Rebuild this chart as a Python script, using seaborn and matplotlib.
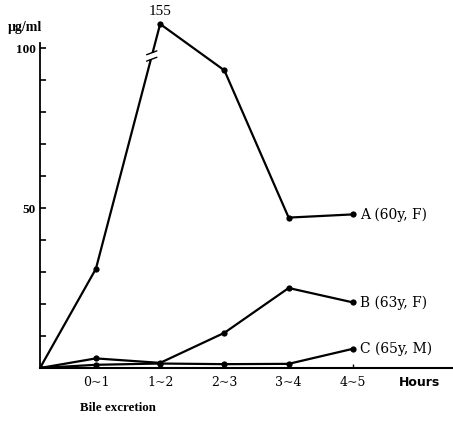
import matplotlib
matplotlib.use("Agg")
import matplotlib.pyplot as plt
import seaborn as sns
import numpy as np
import pandas as pd

# ---- data ----
categories = ["", "0~1", "1~2", "2~3", "3~4", "4~5"]   # first point = origin (start)
series_A = [0, 31, 155, 93, 47, 48]
series_B = [0, 3, 1.6, 11, 25, 20.5]
series_C = [0, 1, 1.4, 1.2, 1.3, 6]
series_labels = ["A (60y, F)", "B (63y, F)", "C (65y, M)"]
y_ticks_labeled = [50, 100]
y_break_at = 100      # axis broken above this value
y_break_top = 107.5   # display height used for the broken value
x_start = 0.13        # start point sits on the y axis, a bit before "0~1"

def disp(v):
    v = np.asarray(v, dtype=float)
    return np.where(v <= y_break_at, v,
                    y_break_at + (v - y_break_at) * (y_break_top - y_break_at) / (155 - y_break_at))

x_pos = np.array([x_start] + list(range(1, len(categories))), dtype=float)
rows = []
for name, vals in zip(series_labels, [series_A, series_B, series_C]):
    for xp, v in zip(x_pos, vals):
        rows.append({"x": xp, "y": float(disp(v)), "raw": v, "series": name})
df = pd.DataFrame(rows)

sns.set_theme(style="white")
plt.rcParams["font.family"] = ["DejaVu Serif"]
plt.rcParams["text.color"] = "black"

fig = plt.figure(figsize=(4.53, 4.23), dpi=100)
ax = fig.add_axes([40/453, 1 - 368/423, 413/453, (368 - 10)/423])

sns.lineplot(data=df, x="x", y="y", hue="series", units="series", estimator=None,
             palette=["black"] * 3, linewidth=1.6, marker="o", markersize=4.5,
             markeredgewidth=0, legend=False, ax=ax, sort=False)

ax.set_xlim(x_start, x_start + 413 / 64.25)
ax.set_ylim(0, (368 - 10) / 3.2)

# spines
for s in ["top", "right"]:
    ax.spines[s].set_visible(False)
ax.spines["left"].set_bounds(0, 101.5)
ax.spines["left"].set_linewidth(1.3)
ax.spines["bottom"].set_linewidth(1.5)
ax.spines["left"].set_color("black")
ax.spines["bottom"].set_color("black")

# ticks
yt = np.arange(10, 101, 10)
ax.set_yticks(yt)
ax.set_yticklabels([str(int(t)) if t in y_ticks_labeled else "" for t in yt],
                   fontsize=9.5, fontweight="bold", family=["Liberation Serif"])
ax.set_xticks(x_pos[1:])
ax.set_xticklabels(categories[1:], fontsize=9)
ax.tick_params(axis="y", left=True, direction="in", length=4, width=1.2, pad=3, colors="black")
ax.tick_params(axis="x", bottom=True, direction="in", length=3, width=1.0, pad=6, colors="black")
ax.set_xlabel("")
ax.set_ylabel("")

# end labels
for name, vals in zip(series_labels, [series_A, series_B, series_C]):
    ax.annotate(name, (x_pos[-1], float(disp(vals[-1]))), xytext=(5, 0),
                textcoords="offset points", va="center", ha="left",
                fontsize=10)

# peak label
i_peak = int(np.argmax(series_A))
ax.annotate(str(series_A[i_peak]), (x_pos[i_peak], float(disp(series_A[i_peak]))),
            xytext=(0, 4), textcoords="offset points", ha="center", va="bottom",
            fontsize=11, family=["Liberation Serif"])

# break marks on the rising segment of A
x0, x1 = x_pos[i_peak - 1], x_pos[i_peak]
y0, y1 = float(disp(series_A[i_peak - 1])), float(disp(series_A[i_peak]))
yb = 97.5
t = (yb - y0) / (y1 - y0)
xb = x0 + t * (x1 - x0)
ax.plot([xb], [yb], marker="s", markersize=5, color="white", markeredgewidth=0, zorder=5)
for dy in (-1.0, 1.0):
    ax.plot([xb - 0.08, xb + 0.08], [yb + dy - 0.6, yb + dy + 0.6],
            color="black", linewidth=1.0, zorder=6)

# axis texts
ax.text(x_start + 380 / 64.25, -2.6, "Hours", ha="center", va="top",
        fontsize=9, fontweight="bold", family=["DejaVu Sans"])
fig.text(80/453, 1 - 408/423, "Bile excretion", ha="left", va="center",
         fontsize=9.3, fontweight="bold", family=["Liberation Serif"])
fig.text(8/453, 1 - 28/423, "μg/ml", ha="left", va="center",
         fontsize=10, fontweight="bold", family=["Liberation Serif"])

fig.savefig("out.png", dpi=100, facecolor="white")
